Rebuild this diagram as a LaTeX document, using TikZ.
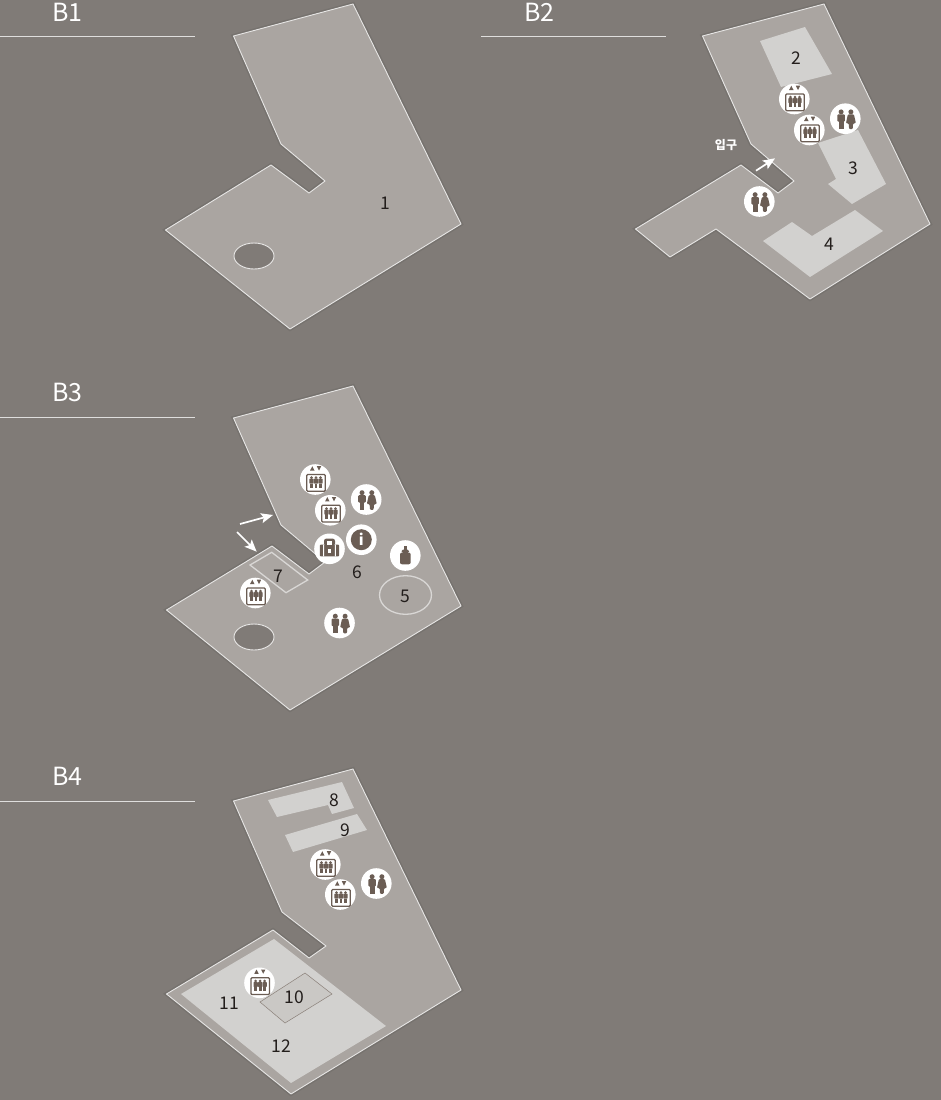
\documentclass[tikz,border=0pt]{standalone}
\usepackage{fontspec}
\setmainfont{Noto Sans CJK KR}
\usetikzlibrary{arrows.meta, positioning}
\definecolor{bgbrown}{RGB}{128, 123, 119}
\definecolor{floorgrey}{RGB}{170, 165, 161}
\definecolor{zonegrey}{RGB}{210, 209, 207}
\definecolor{iconbrown}{RGB}{107, 93, 84}
\definecolor{numdark}{RGB}{35, 30, 28}
\tikzset{
  floor/.style={fill=floorgrey, draw=white!72!floorgrey, line width=0.9pt, line join=round,
    preaction={draw=black, draw opacity=0.07, line width=4pt}},
  well/.style={fill=bgbrown, draw=white!72!floorgrey, line width=0.9pt},
  zone/.style={fill=zonegrey},
  zoneline/.style={draw=white!55!floorgrey, line width=1.3pt},
  headline/.style={draw=white!75!bgbrown, line width=0.6pt},
  heading/.style={font=\fontsize{25}{25}\selectfont, white},
  num/.style={font=\fontsize{17.5}{17.5}\selectfont, numdark, inner sep=0pt},
  badge/.style={fill=white},
  walkarrow/.style={-{Stealth[length=12pt, width=10pt, inset=2.5pt]}, white, line width=1.7pt}
}
% one small figure: head and body
\newcommand{\liftman}[1]{
  \fill[iconbrown] (#1, -1.8) circle (1.5);
  \fill[iconbrown, rounded corners=0.6pt] (#1-2.1, -0.8) rectangle (#1+2.1, 4.2);
  \fill[iconbrown] (#1-1.3, 4) rectangle (#1+1.3, 8.4);
}
% elevator badge
\newcommand{\elevatorbadge}[2]{
  \begin{scope}[shift={(#1, #2)}]
    \fill[badge] (0, 0) circle (15.3);
    \draw[iconbrown, line width=1.3pt, rounded corners=1pt] (-8.6, -5) rectangle (10, 11.7);
    \fill[iconbrown] (-5.2, -9) -- (-0.8, -9) -- (-3, -13.3) -- cycle;
    \fill[iconbrown] (1.5, -13.3) -- (5.9, -13.3) -- (3.7, -9) -- cycle;
    \liftman{-3.8} \liftman{0.7} \liftman{5.2}
  \end{scope}
}
% restroom badge
\newcommand{\restroombadge}[2]{
  \begin{scope}[shift={(#1, #2)}]
    \fill[badge] (0, 0) circle (15.3);
    \fill[iconbrown] (-4.2, -6.8) circle (2.5);
    \fill[iconbrown, rounded corners=1pt] (-8, -4.4) rectangle (-0.4, 3);
    \fill[iconbrown] (-6.6, 2) rectangle (-1.8, 10.4);
    \fill[iconbrown] (5.6, -6.8) circle (2.5);
    \fill[iconbrown, rounded corners=1pt] (2.6, -4.4) -- (8.6, -4.4) -- (10.6, 4.6) -- (7.8, 4.6) -- (7.4, 10.4) -- (3.8, 10.4) -- (3.4, 4.6) -- (0.6, 4.6) -- cycle;
  \end{scope}
}
\begin{document}
\begin{tikzpicture}[x=1pt, y=-1pt]
  \useasboundingbox (0, 0) rectangle (941, 1100);
  \fill[bgbrown] (0, 0) rectangle (941, 1100);

  % Floor headings
  \foreach \name/\lab/\x/\y/\xa/\xb/\yl in {hb1/B1/67.5/12/0/195/36, hb2/B2/539.5/12/481/666/36, hb3/B3/67.5/392/0/195/417, hb4/B4/67.5/776/0/195/801} {
    \node[heading] (\name) at (\x, \y) {\lab};
    \draw[headline] (\xa, \yl) -- (\xb, \yl);
  }

  % B1
  \draw[floor] (353, 4) -- (461, 224) -- (290, 329) -- (165.5, 230) -- (271, 165) -- (309, 193) -- (325, 181) -- (281, 144) -- (233.5, 36) -- cycle;
  \draw[well] (254, 256) ellipse (20 and 13);
  \node[num] (n1) at (385, 203.5) {1};

  % B2
  \draw[floor] (824, 4) -- (930, 224) -- (810, 299) -- (716, 229) -- (670, 257) -- (635.5, 229) -- (741, 165) -- (778, 193) -- (794, 181) -- (751, 144) -- (702.5, 36) -- cycle;
  \fill[zone] (760, 41) -- (805, 27) -- (832, 74) -- (781, 87) -- cycle;
  \fill[zone] (818, 143) -- (858, 130) -- (886, 184) -- (852, 204) -- (828, 184) -- (836, 179) -- cycle;
  \fill[zone] (763, 241) -- (792, 222) -- (812, 236) -- (855, 210) -- (883, 231) -- (810, 277) -- cycle;
  \node[num] (n2) at (796, 58) {2};
  \node[num] (n3) at (853, 168) {3};
  \node[num] (n4) at (829, 244) {4};
  \foreach \x/\y in {794.3/99, 809.3/130} { \elevatorbadge{\x}{\y} }
  \foreach \x/\y in {845.3/118.7, 759.3/201.5} { \restroombadge{\x}{\y} }
  \node[font=\fontsize{12}{12}\selectfont\bfseries, white] (entry) at (726, 145) {입구};
  \coordinate (e1) at (756, 170.7);
  \coordinate (e2) at (775, 158.3);
  \draw[walkarrow] (e1) -- (e2);

  % B3
  \draw[floor] (353, 386) -- (461, 606) -- (290, 710) -- (166.5, 610) -- (272, 546) -- (309, 574) -- (325, 562) -- (281, 525) -- (233.5, 418) -- cycle;
  \draw[well] (254, 637) ellipse (20 and 13);
  \draw[zoneline] (250, 565) -- (271.7, 552.3) -- (307.7, 580) -- (286, 592.7) -- cycle;
  \draw[zoneline] (405.5, 595) ellipse (26 and 19.3);
  \node[num] (n5) at (405.5, 596) {5};
  \node[num] (n6) at (357, 572) {6};
  \node[num] (n7) at (278, 576) {7};
  \foreach \x/\y in {315.3/479.5, 330.3/510.3, 255.3/593} { \elevatorbadge{\x}{\y} }
  \foreach \x/\y in {366.2/499.5, 339.5/623} { \restroombadge{\x}{\y} }

  % Luggage, info and bottle badges
  \fill[badge] (329.5, 548.8) circle (15.3);
  \fill[iconbrown, rounded corners=1pt] (319.8, 544.5) rectangle (339.2, 556.3);
  \fill[iconbrown, rounded corners=2.5pt] (324, 546) -- (324, 538.5) -- (335, 538.5) -- (335, 546) -- cycle;
  \fill[white] (327, 541) rectangle (332, 544.5);
  \fill[white] (323.2, 544.5) rectangle (324.2, 556.3) (334.8, 544.5) rectangle (335.8, 556.3);
  \fill[white] (328, 548.5) rectangle (331, 553);
  \fill[badge] (361.3, 539.7) circle (15.3);
  \fill[iconbrown] (361.3, 539.7) circle (10.5);
  \node[font=\fontsize{15}{15}\selectfont\bfseries, white, inner sep=0pt] (info) at (361.3, 539.7) {i};
  \fill[badge] (405.3, 555.5) circle (15.3);
  \fill[iconbrown] (403.8, 545.7) rectangle (406.8, 550);
  \fill[iconbrown, rounded corners=1.5pt] (401.7, 549.5) rectangle (409, 553);
  \fill[iconbrown, rounded corners=2pt] (400, 552.5) rectangle (410.7, 564.3);

  \coordinate (a1) at (240, 524);
  \coordinate (a2) at (273, 515);
  \coordinate (a3) at (237, 532);
  \coordinate (a4) at (256.7, 551.7);
  \draw[walkarrow] (a1) -- (a2);
  \draw[walkarrow] (a3) -- (a4);

  % B4
  \draw[floor] (353, 769) -- (461, 990) -- (291, 1094) -- (166.5, 994) -- (273, 930) -- (309, 958) -- (326, 946) -- (282, 912) -- (233.5, 801) -- cycle;
  \fill[zone] (268, 800) -- (342, 782) -- (354, 808) -- (332, 814) -- (328, 805) -- (277, 817) -- cycle;
  \fill[zone] (285, 835) -- (357, 814) -- (367, 830) -- (293, 852) -- cycle;
  \fill[zone] (181, 994) -- (274, 939) -- (386, 1026) -- (291, 1083) -- cycle;
  \draw[fill=zonegrey!92!iconbrown, draw=iconbrown!70!zonegrey, line width=0.5pt] (260, 1002) -- (305, 973) -- (332, 994) -- (285, 1023) -- cycle;
  \node[num] (n8) at (334, 800) {8};
  \node[num] (n9) at (345, 830) {9};
  \node[num] (n10) at (294.5, 997.5) {10};
  \node[num] (n11) at (229, 1003) {11};
  \node[num] (n12) at (281.5, 1046) {12};
  \foreach \x/\y in {325.3/864.5, 340.3/894.5, 259.5/982.8} { \elevatorbadge{\x}{\y} }
  \restroombadge{376.3}{883.5}
\end{tikzpicture}
\end{document}
